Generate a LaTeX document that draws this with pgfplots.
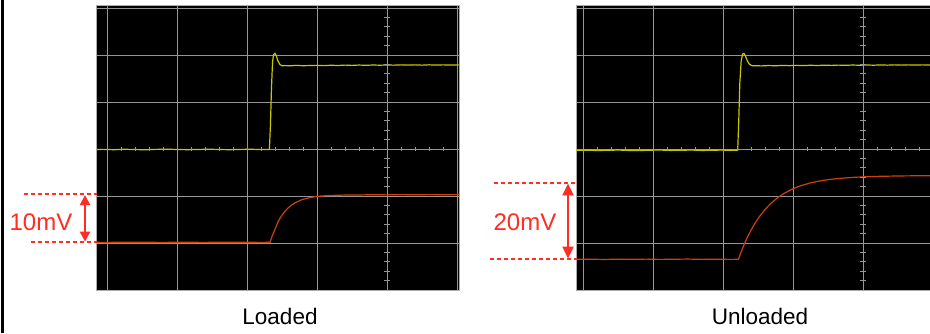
\documentclass[border=0pt]{standalone}
\usepackage{pgfplots}
\pgfplotsset{compat=1.18}
\usepackage{fontspec}
\setmainfont{Liberation Sans}
\usetikzlibrary{arrows.meta}
\definecolor{scopeyellow}{RGB}{200,200,0}
\definecolor{scopered}{RGB}{205,65,10}
\definecolor{annred}{RGB}{255,45,35}
\definecolor{gridgray}{RGB}{150,150,150}
\pgfplotsset{scopepanel/.style={
  scale only axis, height=285pt,
  axis background/.style={fill=black},
  axis line style={draw=gridgray!80, line width=0.6pt},
  ymin=0, ymax=6.064,
  xtick={0,1,2,3,4,5}, ytick={0,1,2,3,4,5,6},
  xticklabels={}, yticklabels={},
  major tick length=0pt,
  grid=major, major grid style={draw=gridgray, line width=0.9pt},
  clip=false, anchor=south west,
},
htick/.style={only marks, mark=|, mark size=2pt, mark options={draw=gridgray, line width=0.8pt}},
vtick/.style={only marks, mark=-, mark size=2.6pt, mark options={draw=gridgray, line width=0.8pt}},
trace/.style={line width=1.2pt, line join=round},
}
\begin{document}
\begin{tikzpicture}[x=1pt,y=1pt]
\useasboundingbox (0,0) rectangle (930,333);
\fill[white] (0,0) rectangle (930,333);
\draw[black, line width=2.4pt] (2.5,0) -- (2.5,333);
% ---------------- Loaded ----------------
\begin{axis}[scopepanel, at={(96pt,43pt)}, width=363pt, xmin=-0.157, xmax=5.029]
\addplot[htick] coordinates {(0,3)(0.2,3)(0.4,3)(0.6,3)(0.8,3)(1,3)(1.2,3)(1.4,3)(1.6,3)(1.8,3)(2,3)(2.2,3)(2.4,3)(2.6,3)(2.8,3)(3,3)(3.2,3)(3.4,3)(3.6,3)(3.8,3)(4,3)(4.2,3)(4.4,3)(4.6,3)(4.8,3)(5,3)};
\addplot[vtick] coordinates {(4,0.2)(4,0.4)(4,0.6)(4,0.8)(4,1)(4,1.2)(4,1.4)(4,1.6)(4,1.8)(4,2)(4,2.2)(4,2.4)(4,2.6)(4,2.8)(4,3)(4,3.2)(4,3.4)(4,3.6)(4,3.8)(4,4)(4,4.2)(4,4.4)(4,4.6)(4,4.8)(4,5)(4,5.2)(4,5.4)(4,5.6)(4,5.8)(4,6)};
% yellow trace
\addplot[trace, scopeyellow] coordinates {
(-0.157,2.99)(-0.05,2.992)(0.1,2.985)(0.25,2.995)(0.4,2.988)(0.55,2.984)(0.7,2.992)(0.85,2.996)(1.0,2.99)(1.15,2.985)(1.3,2.99)(1.45,2.996)(1.6,2.989)(1.75,2.985)(1.9,2.991)(2.05,2.995)(2.2,2.988)(2.32,2.99)
(2.335,3.5)(2.35,4.3)(2.365,4.85)(2.38,5.01)(2.40,5.04)(2.42,4.98)(2.44,4.88)(2.47,4.80)(2.50,4.77)(2.55,4.775)(2.62,4.77)(2.7,4.78)(2.8,4.772)(2.9,4.776)(3.0,4.78)(3.1,4.774)(3.2,4.782)(3.3,4.777)(3.4,4.785)(3.5,4.779)(3.6,4.786)(3.7,4.781)(3.8,4.787)(3.9,4.783)(4.0,4.788)(4.1,4.784)(4.2,4.79)(4.3,4.785)(4.4,4.79)(4.5,4.784)(4.6,4.791)(4.7,4.786)(4.8,4.79)(4.9,4.787)(5.029,4.79)};
% red trace
\addplot[trace, scopered] coordinates {
(-0.157,1.015)(0.0,1.012)(0.2,1.018)(0.4,1.014)(0.6,1.016)(0.8,1.012)(1.0,1.017)(1.2,1.015)(1.4,1.013)(1.6,1.017)(1.8,1.014)(2.0,1.016)(2.2,1.013)(2.33,1.015)
(2.36,1.15)(2.40,1.29)(2.44,1.44)(2.48,1.548)(2.53,1.653)(2.58,1.735)(2.64,1.811)(2.70,1.866)(2.78,1.919)(2.86,1.953)(2.95,1.98)(3.05,1.998)(3.2,2.012)(3.4,2.02)(3.6,2.022)(3.8,2.028)(4.0,2.024)(4.2,2.03)(4.4,2.026)(4.6,2.03)(4.8,2.027)(5.029,2.03)};
% annotation
\draw[annred, line width=1.8pt, dash pattern=on 4pt off 3pt] (axis cs:-1.186,2.036) -- (axis cs:-0.143,2.036);
\draw[annred, line width=1.8pt, dash pattern=on 4pt off 3pt] (axis cs:-1.086,1.015) -- (axis cs:-0.143,1.015);
\draw[annred, line width=2pt, {Triangle[length=10pt,width=10pt]}-{Triangle[length=10pt,width=10pt]}] (axis cs:-0.314,2.02) -- (axis cs:-0.314,1.03);
\node[text=annred, font=\fontsize{24}{28}\selectfont, inner sep=0pt] at (axis cs:-0.943,1.447) {10mV};
\end{axis}
% ---------------- Unloaded ----------------
\begin{axis}[scopepanel, at={(576pt,43pt)}, width=354pt, xmin=-0.1, xmax=4.957]
\addplot[htick] coordinates {(0,3)(0.2,3)(0.4,3)(0.6,3)(0.8,3)(1,3)(1.2,3)(1.4,3)(1.6,3)(1.8,3)(2,3)(2.2,3)(2.4,3)(2.6,3)(2.8,3)(3,3)(3.2,3)(3.4,3)(3.6,3)(3.8,3)(4,3)(4.2,3)(4.4,3)(4.6,3)(4.8,3)};
\addplot[vtick] coordinates {(4,0.2)(4,0.4)(4,0.6)(4,0.8)(4,1)(4,1.2)(4,1.4)(4,1.6)(4,1.8)(4,2)(4,2.2)(4,2.4)(4,2.6)(4,2.8)(4,3)(4,3.2)(4,3.4)(4,3.6)(4,3.8)(4,4)(4,4.2)(4,4.4)(4,4.6)(4,4.8)(4,5)(4,5.2)(4,5.4)(4,5.6)(4,5.8)(4,6)};
% yellow trace
\addplot[trace, scopeyellow] coordinates {
(-0.1,2.97)(0.05,2.975)(0.2,2.968)(0.35,2.972)(0.5,2.978)(0.65,2.97)(0.8,2.966)(0.95,2.974)(1.1,2.978)(1.25,2.97)(1.4,2.973)(1.55,2.978)(1.7,2.969)(1.85,2.974)(2.0,2.977)(2.1,2.97)(2.21,2.972)
(2.225,3.6)(2.24,4.4)(2.26,4.88)(2.28,5.02)(2.30,5.035)(2.32,4.98)(2.35,4.87)(2.38,4.80)(2.42,4.77)(2.48,4.772)(2.55,4.768)(2.65,4.776)(2.75,4.771)(2.85,4.778)(2.95,4.773)(3.05,4.78)(3.15,4.775)(3.25,4.782)(3.35,4.777)(3.45,4.784)(3.55,4.779)(3.65,4.785)(3.75,4.78)(3.85,4.787)(3.95,4.782)(4.05,4.788)(4.15,4.783)(4.25,4.789)(4.35,4.784)(4.45,4.79)(4.55,4.785)(4.65,4.79)(4.75,4.786)(4.85,4.79)(4.957,4.787)};
% red trace
\addplot[trace, scopered] coordinates {
(-0.1,0.653)(0.1,0.655)(0.3,0.65)(0.5,0.656)(0.7,0.652)(0.9,0.657)(1.1,0.651)(1.3,0.655)(1.5,0.658)(1.7,0.652)(1.9,0.656)(2.1,0.651)(2.22,0.653)
(2.26,0.815)(2.30,0.961)(2.35,1.127)(2.40,1.274)(2.46,1.428)(2.52,1.561)(2.60,1.712)(2.68,1.837)(2.77,1.952)(2.87,2.054)(2.98,2.141)(3.10,2.214)(3.25,2.28)(3.42,2.331)(3.62,2.369)(3.85,2.396)(4.1,2.414)(4.35,2.422)(4.6,2.428)(4.957,2.432)};
% annotation
\draw[annred, line width=1.8pt, dash pattern=on 4pt off 3pt] (axis cs:-1.271,2.283) -- (axis cs:-0.086,2.283);
\draw[annred, line width=1.8pt, dash pattern=on 4pt off 3pt] (axis cs:-1.329,0.653) -- (axis cs:-0.086,0.653);
\draw[annred, line width=2pt, {Triangle[length=12pt,width=11pt]}-{Triangle[length=12pt,width=11pt]}] (axis cs:-0.214,2.267) -- (axis cs:-0.214,0.669);
\node[text=annred, font=\fontsize{24}{28}\selectfont, inner sep=0pt] at (axis cs:-0.829,1.447) {20mV};
\end{axis}
\node[anchor=base, font=\fontsize{22.5}{27}\selectfont, inner sep=0pt] at (280,9) {Loaded};
\node[anchor=base, font=\fontsize{22.5}{27}\selectfont, inner sep=0pt] at (760,9) {Unloaded};
\end{tikzpicture}
\end{document}
